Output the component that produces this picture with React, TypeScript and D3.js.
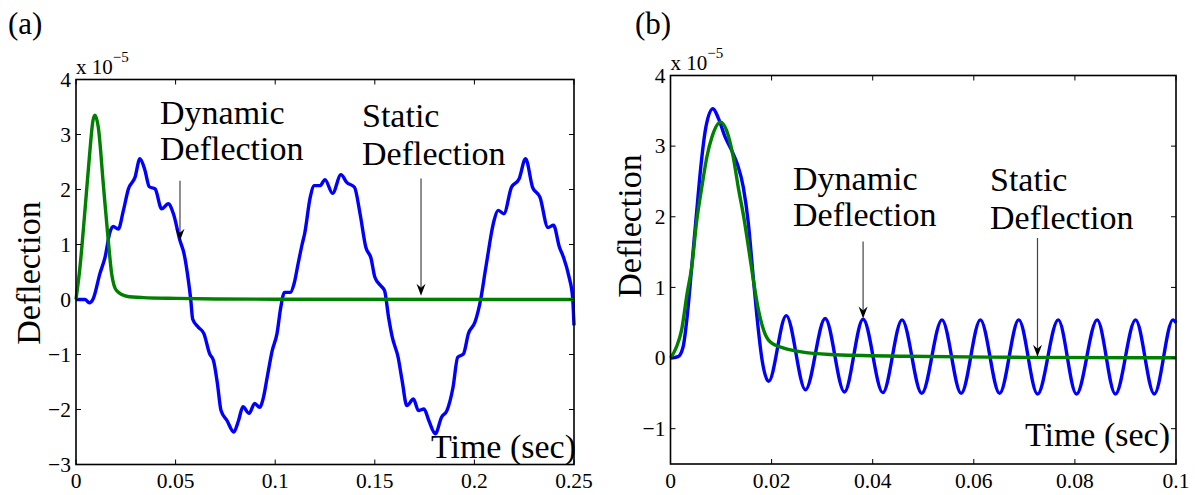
import React from 'react';
import * as d3 from 'd3';

type Pt = [number, number];

// ---------- Panel (a) data (deflection in units of 1e-5) ----------
const blueA: Pt[] = [
  [0, 0], [0.0045, 0], [0.0067, -0.06], [0.0087, 0.02], [0.012, 0.47], [0.0146, 0.77],
  [0.017, 1.22], [0.0187, 1.33], [0.0212, 1.28], [0.0238, 1.62], [0.0263, 2.01], [0.0296, 2.22],
  [0.0321, 2.56], [0.0346, 2.35], [0.0368, 2.05], [0.0397, 2.01], [0.043, 1.65], [0.0463, 1.74],
  [0.0489, 1.56], [0.0522, 1.07], [0.0542, 0.84], [0.0564, 0.35], [0.0576, 0], [0.0586, -0.36],
  [0.0613, -0.5], [0.0642, -0.62], [0.0671, -0.99], [0.069, -1.11], [0.071, -1.53], [0.0728, -2.02],
  [0.0758, -2.2], [0.0792, -2.41], [0.0816, -2.2], [0.0838, -1.95], [0.0869, -2.07], [0.0897, -1.89],
  [0.0922, -1.96], [0.0941, -1.78], [0.096, -1.41], [0.0985, -0.93], [0.1009, -0.62], [0.1028, -0.14],
  [0.1047, 0.13], [0.1076, 0.13], [0.1095, 0.29], [0.1115, 0.65], [0.1135, 1.0], [0.1148, 1.2],
  [0.1176, 1.86], [0.1196, 2.07], [0.1225, 2.07], [0.125, 2.18], [0.1288, 1.93], [0.133, 2.27],
  [0.1359, 2.13], [0.1398, 2.04], [0.1426, 1.56], [0.1455, 0.95], [0.1481, 0.75], [0.15, 0.41],
  [0.153, 0.25], [0.1549, 0.16], [0.1569, -0.32], [0.1588, -0.69], [0.1617, -1.05], [0.1637, -1.47],
  [0.1661, -1.93], [0.1694, -1.81], [0.1719, -2.02], [0.1747, -1.99], [0.1771, -2.2], [0.1804, -2.44],
  [0.1835, -2.14], [0.1862, -2.02], [0.1893, -1.59], [0.1916, -1.05], [0.1945, -0.99], [0.197, -0.62],
  [0.2003, -0.41], [0.2032, 0.01], [0.2055, 0.53], [0.2071, 0.89], [0.2085, 1.2], [0.2099, 1.44],
  [0.2119, 1.62], [0.2148, 1.56], [0.2186, 2.04], [0.2224, 2.19], [0.2257, 2.56], [0.2292, 2.04],
  [0.2329, 1.86], [0.2369, 1.31], [0.2397, 1.35], [0.2427, 0.95], [0.2447, 0.77], [0.2475, 0.41],
  [0.2493, 0.04], [0.25, -0.47],
];

const greenA: Pt[] = [
  [0, 0], [0.002, 0.59], [0.0045, 1.62], [0.007, 2.71], [0.0085, 3.25], [0.0095, 3.35],
  [0.0112, 3.13], [0.0137, 2.1], [0.0162, 1.07], [0.0179, 0.47], [0.0204, 0.16], [0.0254, 0.06],
  [0.0337, 0.035], [0.0505, 0.02], [0.07, 0.01], [0.1, 0.004], [0.25, 0],
];

// ---------- Panel (b) data ----------
const blueB: Pt[] = [
  [0, 0], [0.0015, 0.02], [0.0025, 0.16], [0.0033, 0.59], [0.0042, 1.29], [0.0052, 2.09],
  [0.006, 2.71], [0.007, 3.27], [0.0084, 3.53], [0.0095, 3.39], [0.0108, 3.13], [0.0121, 2.94],
  [0.0132, 2.75], [0.0144, 2.42], [0.0154, 1.91], [0.0163, 1.2], [0.0171, 0.59], [0.0181, -0.02],
  [0.0194, -0.33], [0.0229, 0.6], [0.0267, -0.45], [0.0306, 0.56], [0.0344, -0.48], [0.0381, 0.55],
  [0.042, -0.49], [0.0458, 0.54], [0.0497, -0.5], [0.0537, 0.54], [0.0575, -0.5], [0.0613, 0.54],
  [0.0651, -0.5], [0.0689, 0.54], [0.0726, -0.51], [0.0767, 0.54], [0.0803, -0.51], [0.0844, 0.54],
  [0.088, -0.51], [0.092, 0.54], [0.0957, -0.51], [0.0994, 0.54], [0.1, 0.5],
];

const greenB: Pt[] = [
  [0, 0], [0.0012, 0.16], [0.0022, 0.4], [0.0033, 0.92], [0.0042, 1.29], [0.0052, 1.95],
  [0.0062, 2.42], [0.0072, 2.85], [0.0082, 3.13], [0.0099, 3.34], [0.0111, 3.22], [0.0124, 2.85],
  [0.0134, 2.42], [0.0146, 1.95], [0.0154, 1.58], [0.0164, 1.1], [0.0174, 0.68], [0.0184, 0.4],
  [0.0197, 0.23], [0.0224, 0.14], [0.0256, 0.09], [0.0315, 0.05], [0.0467, 0.025], [0.07, 0.01],
  [0.1, 0.004],
];

// ---------- ticks ----------
const xTicksA = [0, 0.05, 0.1, 0.15, 0.2, 0.25];
const xLabelsA = ['0', '0.05', '0.1', '0.15', '0.2', '0.25'];
const yTicksA = [-3, -2, -1, 0, 1, 2, 3, 4];
const xTicksB = [0, 0.02, 0.04, 0.06, 0.08, 0.1];
const xLabelsB = ['0', '0.02', '0.04', '0.06', '0.08', '0.1'];
const yTicksB = [-1, 0, 1, 2, 3, 4];

// annotation arrows: [t, yStart, yTip]
const arrowsA: [number, number, number][] = [[0.0522, 2.16, 1.07], [0.1732, 2.2, 0.07]];
const arrowsB: [number, number, number][] = [[0.0381, 1.65, 0.56], [0.0726, 1.7, 0.02]];

const FONT = '"Liberation Serif", "Times New Roman", serif';

const fmtY = (v: number) => (v < 0 ? '\u2212' + Math.abs(v) : String(v));

interface PanelProps {
  label: string;
  labelX: number;
  xDomain: [number, number];
  xRange: [number, number];
  yDomain: [number, number];
  yRange: [number, number];
  xTicks: number[];
  xLabels: string[];
  yTicks: number[];
  blue: Pt[];
  green: Pt[];
  arrows: [number, number, number][];
  dyn: [number, number];
  stat: [number, number];
  timePos: [number, number];
  yLabelPos: [number, number];
  expY: number;
}

function Panel(p: PanelProps) {
  const x = d3.scaleLinear().domain(p.xDomain).range(p.xRange);
  const y = d3.scaleLinear().domain(p.yDomain).range(p.yRange);
  const line = d3
    .line<Pt>()
    .x((d) => x(d[0]))
    .y((d) => y(d[1]))
    .curve(d3.curveMonotoneX);
  const [x0, x1] = p.xRange;
  const [yb, yt] = p.yRange;
  const tl = 5;
  return (
    <g>
      <text x={p.labelX} y={34} fontFamily={FONT} fontSize={31}>
        {p.label}
      </text>
      {/* curves */}
      <path d={line(p.blue) || ''} fill="none" stroke="#0000ff" strokeWidth={3.4} strokeLinejoin="round" />
      <path d={line(p.green) || ''} fill="none" stroke="#008000" strokeWidth={3.4} strokeLinejoin="round" />
      {/* box */}
      <rect x={x0} y={yt} width={x1 - x0} height={yb - yt} fill="none" stroke="#000" strokeWidth={1.6} />
      {p.xTicks.map((t, i) => (
        <g key={'xt' + i}>
          <line x1={x(t)} x2={x(t)} y1={yb} y2={yb - tl} stroke="#000" strokeWidth={1} />
          <line x1={x(t)} x2={x(t)} y1={yt} y2={yt + tl} stroke="#000" strokeWidth={1} />
          <text x={x(t)} y={488} textAnchor="middle" fontFamily={FONT} fontSize={21.5}>
            {p.xLabels[i]}
          </text>
        </g>
      ))}
      {p.yTicks.map((v, i) => (
        <g key={'yt' + i}>
          <line x1={x0} x2={x0 + tl} y1={y(v)} y2={y(v)} stroke="#000" strokeWidth={1} />
          <line x1={x1} x2={x1 - tl} y1={y(v)} y2={y(v)} stroke="#000" strokeWidth={1} />
          <text x={x0 - 5} y={y(v)} dy="0.34em" textAnchor="end" fontFamily={FONT} fontSize={21.5}>
            {fmtY(v)}
          </text>
        </g>
      ))}
      {/* exponent */}
      <text x={x0} y={p.expY} fontFamily={FONT} fontSize={21}>
        x 10
        <tspan fontSize={15} dy={-12}>
          {'\u22125'}
        </tspan>
      </text>
      {/* axis labels */}
      <text
        transform={`translate(${p.yLabelPos[0]},${p.yLabelPos[1]}) rotate(-90)`}
        textAnchor="middle"
        fontFamily={FONT}
        fontSize={34}
      >
        Deflection
      </text>
      <text x={p.timePos[0]} y={p.timePos[1]} textAnchor="end" fontFamily={FONT} fontSize={34}>
        Time (sec)
      </text>
      {/* annotations */}
      <text x={p.dyn[0]} y={p.dyn[1]} fontFamily={FONT} fontSize={34}>
        Dynamic
      </text>
      <text x={p.dyn[0]} y={p.dyn[1] + 36} fontFamily={FONT} fontSize={34}>
        Deflection
      </text>
      <text x={p.stat[0]} y={p.stat[1]} fontFamily={FONT} fontSize={34}>
        Static
      </text>
      <text x={p.stat[0]} y={p.stat[1] + 38} fontFamily={FONT} fontSize={34}>
        Deflection
      </text>
      {p.arrows.map((a, i) => {
        const ax = x(a[0]);
        const ys = y(a[1]);
        const ye = y(a[2]);
        return (
          <g key={'ar' + i}>
            <line x1={ax} x2={ax} y1={ys} y2={ye - 6} stroke="#444" strokeWidth={1.2} />
            <path
              d={`M${ax},${ye} L${ax - 4.5},${ye - 12} L${ax},${ye - 8} L${ax + 4.5},${ye - 12} Z`}
              fill="#000"
            />
          </g>
        );
      })}
    </g>
  );
}

export default function App() {
  return (
    <svg
      width={1195}
      height={495}
      style={{ position: 'absolute', left: 0, top: 0, background: '#fff' }}
    >
      <rect width={1195} height={495} fill="#fff" />
      <Panel
        label="(a)"
        labelX={8}
        xDomain={[0, 0.25]}
        xRange={[76, 574]}
        yDomain={[-3, 4]}
        yRange={[464.5, 79.5]}
        xTicks={xTicksA}
        xLabels={xLabelsA}
        yTicks={yTicksA}
        blue={blueA}
        green={greenA}
        arrows={arrowsA}
        dyn={[160, 124]}
        stat={[362, 127]}
        timePos={[576, 458]}
        yLabelPos={[40, 273]}
        expY={74}
      />
      <Panel
        label="(b)"
        labelX={635}
        xDomain={[0, 0.1]}
        xRange={[670.5, 1176]}
        yDomain={[-1.5, 4]}
        yRange={[464, 75.5]}
        xTicks={xTicksB}
        xLabels={xLabelsB}
        yTicks={yTicksB}
        blue={blueB}
        green={greenB}
        arrows={arrowsB}
        dyn={[793, 190]}
        stat={[990, 191]}
        timePos={[1170, 446]}
        yLabelPos={[641, 226]}
        expY={70}
      />
    </svg>
  );
}
